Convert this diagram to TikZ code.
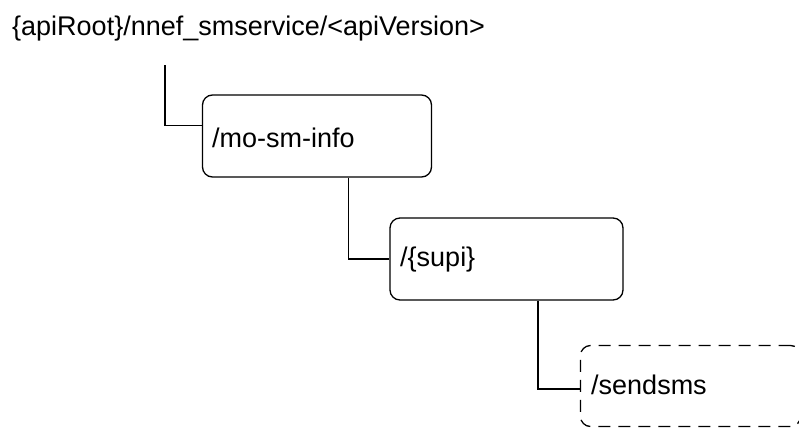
\documentclass[tikz,border=0pt]{standalone}
\usepackage{fontspec}
\setmainfont{Liberation Sans}
\begin{document}
\begin{tikzpicture}[x=1pt,y=-1pt,
  resbox/.style={draw=black, line width=1.3pt, rounded corners=10pt},
  dashbox/.style={resbox, dash pattern=on 12pt off 8pt},
  conn/.style={draw=black, line width=1.3pt},
  lbl/.style={anchor=base west, inner sep=0pt, font=\fontsize{27}{32}\selectfont}]
\useasboundingbox (0,0) rectangle (799,428);
\clip (0,0) rectangle (799,428);
\node[lbl] (root) at (12,36) {\{apiRoot\}/nnef\_smservice/<apiVersion>};
\coordinate (rootstub) at (165,65);
% boxes
\node[resbox, minimum width=229pt, minimum height=82pt, inner sep=0pt] (b1) at (317,136) {};
\node[lbl] (t1) at (212,147) {/mo-sm-info};
\node[resbox, minimum width=233pt, minimum height=82pt, inner sep=0pt] (b2) at (506.5,259) {};
\node[lbl] (t2) at (400,266) {/\{supi\}};
\node[dashbox, minimum width=220pt, minimum height=81pt, inner sep=0pt] (b3) at (690.5,386) {};
\node[lbl] (t3) at (591,394) {/sendsms};
% connectors
\draw[conn] (rootstub) |- ([yshift=10.7pt]b1.west);
\draw[conn] ([xshift=31.5pt]b1.south) |- (b2.west);
\draw[conn] ([xshift=31.5pt]b2.south) |- ([yshift=-3pt]b3.west);
\end{tikzpicture}
\end{document}
